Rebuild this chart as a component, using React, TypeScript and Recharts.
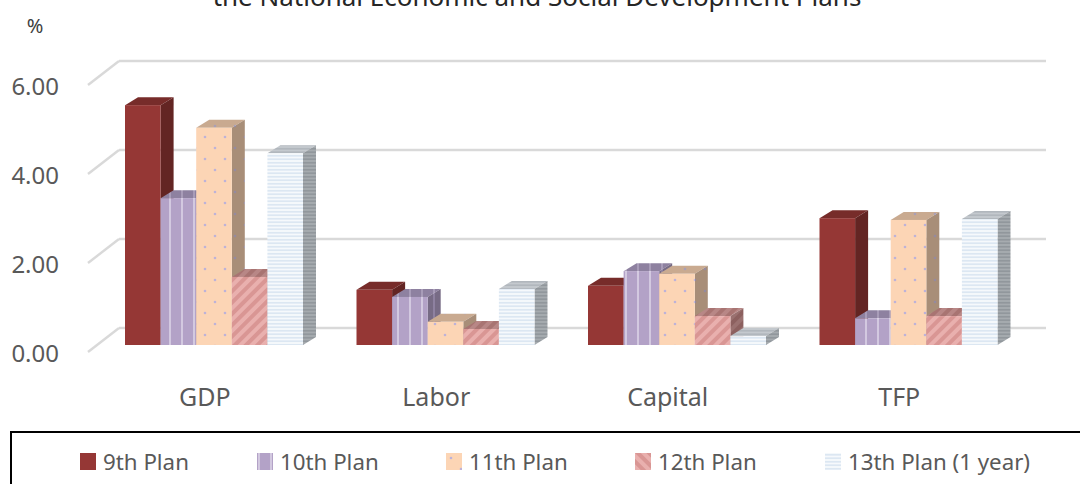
import React from "react";
import { BarChart, Bar, XAxis, YAxis, CartesianGrid, Legend } from "recharts";

const categories = ["GDP", "Labor", "Capital", "TFP"];
const plan9 = [5.39, 1.24, 1.33, 2.85];
const plan10 = [3.3, 1.08, 1.66, 0.6];
const plan11 = [4.88, 0.52, 1.6, 2.81];
const plan12 = [1.53, 0.36, 0.65, 0.65];
const plan13 = [4.31, 1.26, 0.2, 2.83];
const yTicks = [0, 2, 4, 6];

const data = categories.map((name, i) => ({
  name,
  plan9: plan9[i],
  plan10: plan10[i],
  plan11: plan11[i],
  plan12: plan12[i],
  plan13: plan13[i],
}));

const FONT = "'Noto Sans', sans-serif";
const TEXT = "#595959";
const GRID = "#d9d9d9";
const DX = 13;
const DY = -8;

const series = [
  { key: "plan9", name: "9th Plan", kind: "solid", legendX: 80, front: ["#953735", "#953735"], top: ["#772c2a", "#772c2a"], side: ["#632523", "#632523"] },
  { key: "plan10", name: "10th Plan", kind: "vertical", legendX: 257, front: ["#b3a2c7", "#d3c9e0"], top: ["#8e81a0", "#a89cb8"], side: ["#776b85", "#8e81a0"] },
  { key: "plan11", name: "11th Plan", kind: "dots", legendX: 446, front: ["#fcd5b5", "#bdb2d8"], top: ["#c9aa90", "#a99fb5"], side: ["#a88e78", "#958a9e"] },
  { key: "plan12", name: "12th Plan", kind: "diagonal", legendX: 635, front: ["#e9b0ae", "#d99694"], top: ["#b88786", "#a87472"], side: ["#9a7170", "#8c605f"] },
  { key: "plan13", name: "13th Plan (1 year)", kind: "horizontal", legendX: 825, front: ["#f6f9fc", "#d8e4f1"], top: ["#c4c9ce", "#aeb4ba"], side: ["#a6abaf", "#8e9499"] },
];

function patternFor(id: string, kind: string, base: string, accent: string, flip = false) {
  if (kind === "vertical") {
    return (
      <pattern id={id} key={id} width={12} height={12} patternUnits="userSpaceOnUse">
        <rect width={12} height={12} fill={base} />
        <rect x={1} width={2} height={12} fill={accent} />
      </pattern>
    );
  }
  if (kind === "dots") {
    return (
      <pattern id={id} key={id} width={20} height={22} patternUnits="userSpaceOnUse">
        <rect width={20} height={22} fill={base} />
        <circle cx={5} cy={5} r={1.3} fill={accent} />
        <circle cx={15} cy={16} r={1.3} fill={accent} />
      </pattern>
    );
  }
  if (kind === "diagonal") {
    return (
      <pattern id={id} key={id} width={8} height={8} patternUnits="userSpaceOnUse" patternTransform={flip ? "rotate(-45)" : "rotate(45)"}>
        <rect width={8} height={8} fill={base} />
        <rect width={4} height={8} fill={accent} />
      </pattern>
    );
  }
  if (kind === "horizontal") {
    return (
      <pattern id={id} key={id} width={3.5} height={3.5} patternUnits="userSpaceOnUse">
        <rect width={3.5} height={3.5} fill={base} />
        <rect y={1} width={3.5} height={1.5} fill={accent} />
      </pattern>
    );
  }
  return (
    <pattern id={id} key={id} width={4} height={4} patternUnits="userSpaceOnUse">
      <rect width={4} height={4} fill={base} />
    </pattern>
  );
}

function Bar3D({ x, y, width, height, seriesIndex }: any) {
  const r = x + width;
  const b = y + height;
  return (
    <g>
      <polygon points={`${x},${y} ${x + DX},${y + DY} ${r + DX},${y + DY} ${r},${y}`} fill={`url(#p${seriesIndex}top)`} />
      <polygon points={`${r},${y} ${r + DX},${y + DY} ${r + DX},${b + DY} ${r},${b}`} fill={`url(#p${seriesIndex}side)`} />
      <rect x={x} y={y} width={width} height={height} fill={`url(#p${seriesIndex}front)`} />
    </g>
  );
}

function WallLine(props: any) {
  const { y1, x2 } = props;
  return (
    <g key={props.key}>
      <line x1={88} y1={y1 + 7} x2={119} y2={y1 - 17} stroke={GRID} strokeWidth={2.4} />
      <line x1={119} y1={y1 - 17} x2={x2 + 22} y2={y1 - 17} stroke={GRID} strokeWidth={2.4} />
    </g>
  );
}

function YTick({ y, payload }: any) {
  return (
    <text x={59} y={y + 9} dy={8} textAnchor="end" fontSize={24} fontFamily={FONT} fill={TEXT}>
      {payload.value.toFixed(2)}
    </text>
  );
}

function XTick({ x, y, payload }: any) {
  return (
    <text x={x - 9} y={y + 53} textAnchor="middle" fontSize={25} fontFamily={FONT} fill={TEXT}>
      {payload.value}
    </text>
  );
}

function LegendBox() {
  return (
    <div style={{ position: "relative", width: 1070, height: 53, boxSizing: "border-box", borderTop: "2px solid #000", borderLeft: "2px solid #000" }}>
      {series.map((s, i) => (
        <div key={s.key} style={{ position: "absolute", left: s.legendX - 12, top: 20, display: "flex", alignItems: "center", whiteSpace: "nowrap" }}>
          <svg width={16} height={17} style={{ marginRight: 7 }}>
            <rect width={16} height={17} fill={s.kind === "diagonal" ? "url(#pLegendDiagonal)" : `url(#p${i}front)`} />
          </svg>
          <span style={{ fontFamily: FONT, fontSize: 22.3, color: TEXT, lineHeight: "17px" }}>{s.name}</span>
        </div>
      ))}
    </div>
  );
}

export default function App() {
  return (
    <div style={{ position: "absolute", left: 0, top: 0, width: 1080, height: 484, overflow: "hidden", background: "#fff" }}>
      <BarChart
        width={1080}
        height={484}
        data={data}
        margin={{ top: 78, right: 56, bottom: 0, left: 0 }}
        barSize={35.6}
        barGap={0}>
        <defs>
          {series.flatMap((s, i) => [
            patternFor(`p${i}front`, s.kind, s.front[0], s.front[1]),
            patternFor(`p${i}top`, s.kind, s.top[0], s.top[1]),
            patternFor(`p${i}side`, s.kind, s.side[0], s.side[1]),
          ])}
          {patternFor("pLegendDiagonal", "diagonal", series[3].front[0], series[3].front[1], true)}
        </defs>
        <text x={537} y={6} textAnchor="middle" fontSize={26} fontFamily={FONT} fill="#262626">
          the National Economic and Social Development Plans
        </text>
        <text x={35} y={33} textAnchor="middle" fontSize={20} fontFamily={FONT} fill="#404040">
          %
        </text>
        <CartesianGrid vertical={false} horizontal={(p: any) => <WallLine {...p} />} />
        <XAxis dataKey="name" height={86} axisLine={false} tickLine={false} tick={<XTick />} interval={0} />
        <YAxis width={98} domain={[0, 6]} ticks={yTicks} axisLine={false} tickLine={false} tick={<YTick />} />
        {series.map((s, i) => (
          <Bar
            key={s.key}
            dataKey={s.key}
            name={s.name}
            isAnimationActive={false}
            shape={(p: any) => <Bar3D {...p} seriesIndex={i} />}
          />
        ))}
        <Legend content={<LegendBox />} wrapperStyle={{ left: 10, top: 431, width: 1070, bottom: "auto" }} />
      </BarChart>
    </div>
  );
}
